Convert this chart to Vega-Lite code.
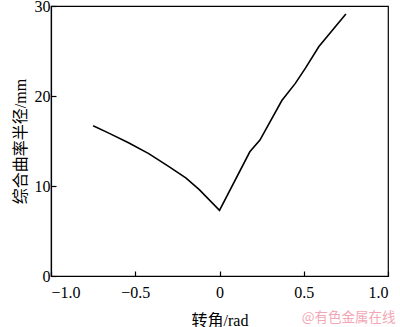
{
  "$schema": "https://vega.github.io/schema/vega-lite/v6.json",
  "width": 337,
  "height": 270,
  "autosize": "none",
  "padding": {"left": 51, "top": 6, "right": 12, "bottom": 51},
  "background": "white",
  "config": {
    "view": {"stroke": "black", "strokeWidth": 1.2},
    "axis": {
      "domainColor": "black",
      "tickColor": "black",
      "labelColor": "black",
      "titleColor": "black",
      "grid": false,
      "labelFont": "Liberation Serif",
      "labelFontSize": 16,
      "titleFont": "Liberation Serif, Noto Sans CJK SC",
      "titleFontSize": 16,
      "titleFontWeight": "normal",
      "tickSize": -5,
      "domainWidth": 1.2,
      "tickWidth": 1.2
    }
  },
  "title": {
    "text": "@有色金属在线",
    "orient": "bottom",
    "anchor": "end",
    "font": "Noto Sans CJK SC",
    "fontSize": 13.5,
    "fontWeight": "normal",
    "color": "#f2a7b5",
    "offset": -17,
    "dx": 7
  },
  "data": {
    "values": [
      {"x": -0.75, "y": 16.7},
      {"x": -0.66, "y": 15.9},
      {"x": -0.54, "y": 14.8},
      {"x": -0.42, "y": 13.6},
      {"x": -0.30, "y": 12.15},
      {"x": -0.20, "y": 10.9},
      {"x": -0.12, "y": 9.6},
      {"x": 0.0, "y": 7.3},
      {"x": 0.18, "y": 13.8},
      {"x": 0.24, "y": 15.1},
      {"x": 0.37, "y": 19.5},
      {"x": 0.45, "y": 21.4},
      {"x": 0.51, "y": 23.1},
      {"x": 0.59, "y": 25.5},
      {"x": 0.75, "y": 29.1}
    ]
  },
  "mark": {"type": "line", "color": "black", "strokeWidth": 1.6},
  "encoding": {
    "x": {
      "field": "x",
      "type": "quantitative",
      "scale": {"domain": [-1, 1], "nice": false},
      "axis": {"values": [-1, -0.5, 0, 0.5, 1], "labelExpr": "datum.value == 0 ? '0' : replace(format(datum.value, '.1f'), '-', '−')", "title": "转角/rad", "labelPadding": 13, "titlePadding": 12}
    },
    "y": {
      "field": "y",
      "type": "quantitative",
      "scale": {"domain": [0, 30], "nice": false},
      "axis": {"values": [0, 10, 20, 30], "title": "综合曲率半径/mm", "labelPadding": 6, "titlePadding": 6}
    }
  }
}
